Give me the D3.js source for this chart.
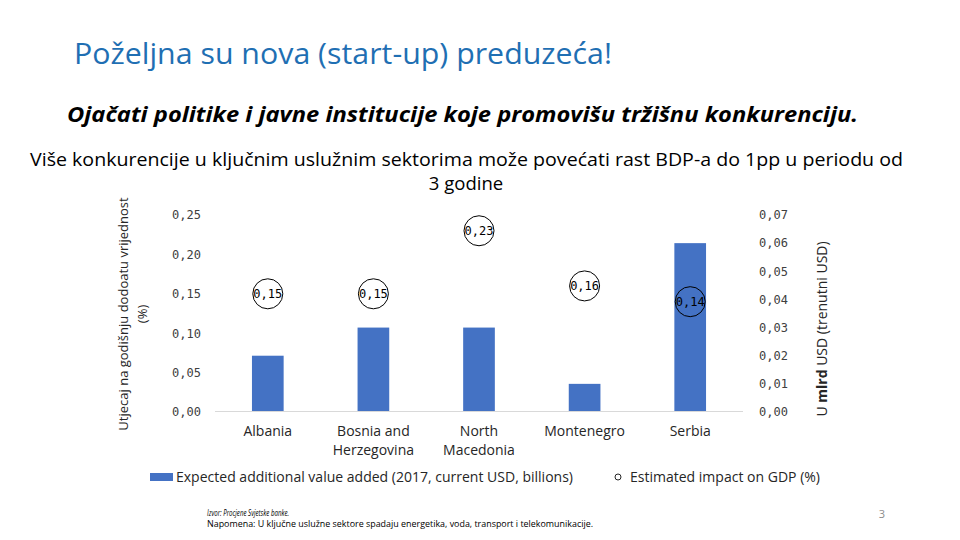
<!DOCTYPE html>
<html><head><meta charset="utf-8">
<script src="https://cdn.jsdelivr.net/npm/d3@7"></script>
<style>body{margin:0;background:#fff}svg{display:block}</style>
</head><body>
<svg id="c" width="960" height="540"></svg>
<script>
const categories = [["Albania"], ["Bosnia and","Herzegovina"], ["North","Macedonia"], ["Montenegro"], ["Serbia"]];
const valueAdded = [0.02, 0.03, 0.03, 0.01, 0.06];       // USD billions (right axis)
const gdpImpact = [0.15, 0.15, 0.23, 0.16, 0.14];         // % (left axis)
const gdpLabels = ["0,15", "0,15", "0,23", "0,16", "0,14"];
const leftTicks = [0, 0.05, 0.10, 0.15, 0.20, 0.25];
const rightTicks = [0, 0.01, 0.02, 0.03, 0.04, 0.05, 0.06, 0.07];

const svg = d3.select("#c");
const fmt2 = d => d.toFixed(2).replace(".", ",");

// Titles
svg.append("text").attr("x", 74).attr("y", 64).attr("font-family", "Open Sans").attr("font-size", 29)
  .attr("font-weight", 400).attr("fill", "#1f6fb3").attr("textLength", 538).attr("lengthAdjust", "spacingAndGlyphs")
  .text("Poželjna su nova (start-up) preduzeća!");
svg.append("text").attr("x", 67).attr("y", 122).attr("font-family", "Open Sans").attr("font-size", 21)
  .attr("font-weight", 700).attr("font-style", "italic").attr("fill", "#000")
  .attr("textLength", 791).attr("lengthAdjust", "spacingAndGlyphs")
  .text("Ojačati politike i javne institucije koje promovišu tržišnu konkurenciju.");
svg.append("text").attr("x", 30).attr("y", 166).attr("font-family", "Open Sans")
  .attr("font-size", 18.5).attr("fill", "#000").attr("textLength", 873).attr("lengthAdjust", "spacingAndGlyphs")
  .text("Više konkurencije u ključnim uslužnim sektorima može povećati rast BDP-a do 1pp u periodu od");
svg.append("text").attr("x", 466).attr("y", 190).attr("text-anchor", "middle").attr("font-family", "Open Sans")
  .attr("font-size", 18.5).attr("fill", "#000").text("3 godine");

const x0 = 215, x1 = 743, yTop = 215, yBot = 412;
const x = d3.scaleBand().domain(d3.range(categories.length)).range([x0, x1]).paddingInner(0.7).paddingOuter(0.35);
const yL = d3.scaleLinear().domain([0, 0.25]).range([yBot, yTop]);
const yR = d3.scaleLinear().domain([0, 0.07]).range([yBot, yTop]);

// Left axis
const gL = svg.append("g").attr("transform", `translate(${201},0)`)
  .call(d3.axisLeft(yL).tickValues(leftTicks).tickFormat(fmt2).tickSize(0).tickPadding(0));
gL.select(".domain").remove();
gL.selectAll("text").attr("font-family", "DejaVu Sans Mono").attr("font-size", 12).attr("fill", "#404040");

// Right axis
const gR = svg.append("g").attr("transform", `translate(${759},0)`)
  .call(d3.axisRight(yR).tickValues(rightTicks).tickFormat(fmt2).tickSize(0).tickPadding(0));
gR.select(".domain").remove();
gR.selectAll("text").attr("font-family", "DejaVu Sans Mono").attr("font-size", 12).attr("fill", "#404040");

// Baseline
svg.append("line").attr("x1", x0).attr("x2", x1).attr("y1", yBot - 0.5).attr("y2", yBot - 0.5)
  .attr("stroke", "#d9d9d9").attr("stroke-width", 1);

// Bars
svg.selectAll("rect.bar").data(valueAdded).enter().append("rect").attr("class", "bar")
  .attr("x", (d, i) => x(i)).attr("width", x.bandwidth())
  .attr("y", d => yR(d)).attr("height", d => yBot - 1 - yR(d)).attr("fill", "#4472c4");

// Circles with labels
const cg = svg.selectAll("g.pt").data(gdpImpact).enter().append("g").attr("class", "pt")
  .attr("transform", (d, i) => `translate(${x(i) + x.bandwidth() / 2},${yL(d)})`);
cg.append("circle").attr("r", 15).attr("fill", "none").attr("stroke", "#000").attr("stroke-width", 1);
cg.append("text").attr("text-anchor", "middle").attr("dy", "0.35em").attr("font-family", "DejaVu Sans Mono")
  .attr("font-size", 12).attr("fill", "#000").text((d, i) => gdpLabels[i]);

// Category labels
categories.forEach((lines, i) => {
  const t = svg.append("text").attr("x", x(i) + x.bandwidth() / 2).attr("y", 436)
    .attr("text-anchor", "middle").attr("font-family", "Open Sans").attr("font-size", 14).attr("fill", "#262626");
  lines.forEach((l, j) => t.append("tspan").attr("x", x(i) + x.bandwidth() / 2).attr("dy", j ? 19 : 0).text(l));
});

// Axis titles
svg.append("text").attr("transform", "translate(128,314) rotate(-90)").attr("text-anchor", "middle")
  .attr("font-family", "Open Sans").attr("font-size", 13).attr("fill", "#262626")
  .text("Utjecaj na godišnju dodoatu vrijednost");
svg.append("text").attr("transform", "translate(147,314) rotate(-90)").attr("text-anchor", "middle")
  .attr("font-family", "Open Sans").attr("font-size", 13).attr("fill", "#262626").text("(%)");
const rt = svg.append("text").attr("transform", "translate(827,329) rotate(-90)").attr("text-anchor", "middle")
  .attr("font-family", "Open Sans").attr("font-size", 14).attr("fill", "#262626");
rt.append("tspan").text("U ");
rt.append("tspan").attr("font-weight", 700).text("mlrd");
rt.append("tspan").text(" USD (trenutni USD)");

// Legend
svg.append("rect").attr("x", 150).attr("y", 473).attr("width", 23).attr("height", 8).attr("fill", "#4472c4");
svg.append("text").attr("x", 176).attr("y", 482).attr("font-family", "Open Sans").attr("font-size", 14)
  .attr("fill", "#262626").attr("textLength", 397).attr("lengthAdjust", "spacingAndGlyphs")
  .text("Expected additional value added (2017, current USD, billions)");
svg.append("circle").attr("cx", 618).attr("cy", 477).attr("r", 3).attr("fill", "none").attr("stroke", "#262626");
svg.append("text").attr("x", 630).attr("y", 482).attr("font-family", "Open Sans").attr("font-size", 14)
  .attr("fill", "#262626").attr("textLength", 190).attr("lengthAdjust", "spacingAndGlyphs")
  .text("Estimated impact on GDP (%)");

// Source
svg.append("text").attr("x", 207).attr("y", 516).attr("font-family", "Open Sans").attr("font-size", 8.5)
  .attr("font-style", "italic").attr("fill", "#000").attr("textLength", 82).attr("lengthAdjust", "spacingAndGlyphs")
  .text("Izvor: Procjene Svjetske banke.");
svg.append("text").attr("x", 207).attr("y", 527).attr("font-family", "Open Sans").attr("font-size", 8.5)
  .attr("fill", "#000").attr("textLength", 386).attr("lengthAdjust", "spacingAndGlyphs")
  .text("Napomena: U ključne uslužne sektore spadaju energetika, voda, transport i telekomunikacije.");

svg.append("text").attr("x", 882).attr("y", 518).attr("text-anchor", "middle").attr("font-family", "Open Sans")
  .attr("font-size", 11).attr("fill", "#8c8c8c").text("3");
</script>
</body></html>
